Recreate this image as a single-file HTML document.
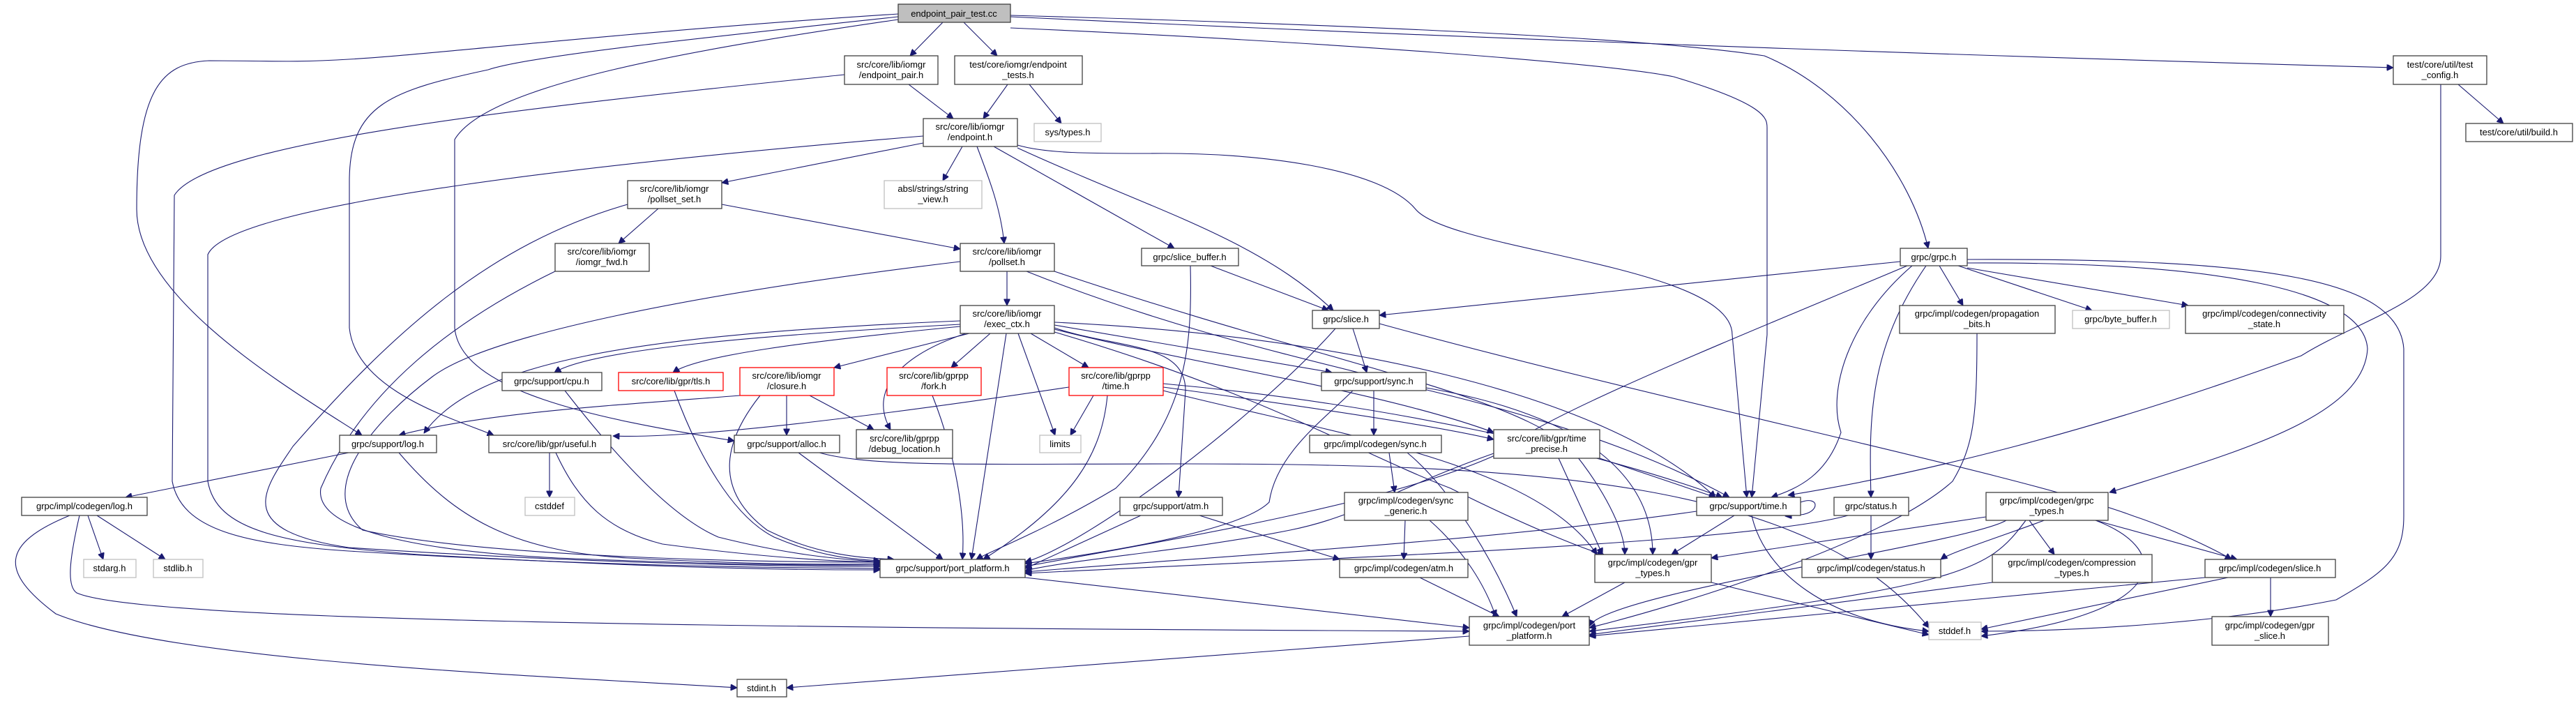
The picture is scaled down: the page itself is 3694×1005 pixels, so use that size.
<!DOCTYPE html>
<html><head><meta charset="utf-8"><style>
html,body{margin:0;padding:0;background:#fff;}
svg{display:block;}
text{font-family:"Liberation Sans",sans-serif;font-size:13px;fill:#000;text-anchor:middle;}
.e{fill:none;stroke:#191970;stroke-width:1.1;marker-end:url(#a);}
.n{fill:#fff;stroke:#404040;stroke-width:1.3;}
.g{fill:#fff;stroke:#bfbfbf;stroke-width:1.3;}
.r{fill:#fff;stroke:#ff0000;stroke-width:1.3;}
</style></head><body>
<svg width="3694" height="1005" viewBox="0 0 3694 1005" xmlns="http://www.w3.org/2000/svg">
<defs><marker id="a" viewBox="0 0 10 10" refX="10" refY="5" markerWidth="10" markerHeight="9" markerUnits="userSpaceOnUse" orient="auto"><path d="M0,0 L10,5 L0,10 z" fill="#191970" stroke="#191970"/></marker></defs>

<g>
<path class="e" d="M1352,32 L1305,80"/>
<path class="e" d="M1382,32 L1430,80"/>
<path class="e" d="M1449,22 C2100,40 2400,60 2530,80 C2650,130 2740,250 2765,356"/>
<path class="e" d="M1449,24 C2200,60 3000,85 3432,97"/>
<path class="e" d="M1288,20 C900,45 600,80 500,85 C420,90 380,87 300,87 C230,90 196,130 196,300 C196,430 420,560 519,624"/>
<path class="e" d="M1288,24 C1000,55 760,80 700,100 C560,130 501,150 501,260 L501,470 C510,560 650,600 708,624"/>
<path class="e" d="M1288,28 C1000,70 700,120 652,200 L652,470 C660,560 850,600 1053,632"/>
<path class="e" d="M1211,107 C800,150 300,200 250,280 L247,690 C260,760 350,780 500,790 C900,815 1200,814 1262,815"/>
<path class="e" d="M1324,195 C900,230 330,290 298,365 L298,690 C310,760 400,780 600,795 C1000,818 1200,817 1262,817"/>
<path class="e" d="M1324,205 L1035,262"/>
<path class="e" d="M1380,210 L1352,259"/>
<path class="e" d="M1401,210 C1420,260 1435,300 1440,349"/>
<path class="e" d="M1425,210 L1684,356"/>
<path class="e" d="M1459,212 C1650,300 1800,340 1912,445"/>
<path class="e" d="M1459,208 C1500,220 1560,220 1650,220 C1800,218 1980,240 2030,300 C2080,360 2484,380 2484,480 L2505,713"/>
<path class="e" d="M1449,40 C1900,60 2300,90 2400,110 C2534,150 2534,170 2534,183 L2534,480 L2512,713"/>
<path class="e" d="M3500,121 L3500,367 C3500,430 3380,460 3300,510 C3000,620 2750,680 2564,710"/>
<path class="e" d="M3525,121 L3590,177"/>
<path class="e" d="M1445,121 L1410,170"/>
<path class="e" d="M1476,121 L1522,177"/>
<path class="e" d="M1303,121 L1367,170"/>
<path class="e" d="M944,299 L887,349"/>
<path class="e" d="M1035,293 L1377,357"/>
<path class="e" d="M900,293 C700,350 560,480 420,640 C380,700 330,760 500,785 C900,812 1200,812 1262,812"/>
<path class="e" d="M796,389 C650,460 520,560 460,700 C450,760 600,790 800,800 C1100,812 1200,810 1262,810"/>
<path class="e" d="M1444,389 L1444,438"/>
<path class="e" d="M1377,375 C1000,420 700,480 620,540 C540,600 450,700 520,760 C700,800 1100,806 1262,806"/>
<path class="e" d="M1472,389 C1700,480 1900,520 2050,560 C2300,620 2420,680 2480,713"/>
<path class="e" d="M1512,389 C1900,520 2150,560 2250,640 C2300,700 2330,760 2330,795"/>
<path class="e" d="M1736,381 L1905,445"/>
<path class="e" d="M1707,381 C1710,500 1700,600 1600,700 C1500,760 1420,790 1400,802"/>
<path class="e" d="M2725,375 L1978,452"/>
<path class="e" d="M2735,381 C2500,480 2200,600 2150,650 C2000,720 1700,770 1470,812"/>
<path class="e" d="M2742,381 C2650,460 2620,560 2640,620 C2620,680 2580,700 2540,713"/>
<path class="e" d="M2762,381 C2680,500 2680,600 2683,713"/>
<path class="e" d="M2781,381 L2815,438"/>
<path class="e" d="M2808,381 L3000,445"/>
<path class="e" d="M2821,384 L3138,438"/>
<path class="e" d="M2821,377 C3200,375 3390,420 3395,500 C3390,600 3200,650 3025,706"/>
<path class="e" d="M2821,372 C3250,370 3440,400 3447,500 L3447,740 C3447,800 3420,820 3350,860 C3200,890 3000,905 2841,905"/>
<path class="e" d="M2835,478 C2835,600 2830,640 2800,690 C2700,780 2400,870 2279,900"/>
<path class="e" d="M1940,471 L1960,534"/>
<path class="e" d="M1915,471 C1800,600 1560,780 1470,806"/>
<path class="e" d="M1978,464 C2400,580 2900,680 3060,740 C3120,760 3180,790 3200,802"/>
<path class="e" d="M1377,465 C1100,480 850,500 795,534"/>
<path class="e" d="M1377,468 C1150,490 1000,510 965,534"/>
<path class="e" d="M1390,478 L1196,527"/>
<path class="e" d="M1385,478 C1290,510 1245,560 1277,616"/>
<path class="e" d="M1420,478 L1364,527"/>
<path class="e" d="M1443,478 L1393,802"/>
<path class="e" d="M1460,478 L1513,624"/>
<path class="e" d="M1478,478 L1561,527"/>
<path class="e" d="M1512,470 C1600,500 1700,490 1700,560 L1690,713"/>
<path class="e" d="M1512,466 L1910,534"/>
<path class="e" d="M1512,472 C1700,520 1980,560 2142,620"/>
<path class="e" d="M1377,460 C900,480 680,520 608,621"/>
<path class="e" d="M1512,476 C1800,560 1950,650 2080,700 C2200,760 2280,790 2300,795"/>
<path class="e" d="M1512,462 C1900,480 2300,560 2460,713"/>
<path class="e" d="M1128,567 L1128,624"/>
<path class="e" d="M1161,567 L1253,616"/>
<path class="e" d="M1090,567 C1040,630 1020,700 1100,760 C1180,800 1250,800 1282,802"/>
<path class="e" d="M1061,567 C900,580 700,590 572,624"/>
<path class="e" d="M1533,555 C1300,590 1000,630 879,625"/>
<path class="e" d="M1568,567 L1535,624"/>
<path class="e" d="M1588,567 C1580,650 1540,720 1410,802"/>
<path class="e" d="M1668,555 C2000,600 2100,620 2142,630"/>
<path class="e" d="M1668,560 C1900,620 2200,660 2290,795"/>
<path class="e" d="M1668,550 C2000,580 2300,650 2470,713"/>
<path class="e" d="M967,560 C1000,650 1050,740 1110,770 C1180,800 1230,802 1262,804"/>
<path class="e" d="M1337,567 C1370,650 1385,740 1380,802"/>
<path class="e" d="M810,560 C880,650 960,740 1030,770 C1150,800 1220,802 1262,806"/>
<path class="e" d="M1145,649 L1352,802"/>
<path class="e" d="M1175,649 C1250,670 1400,665 1700,665 C2200,665 2600,690 2766,900"/>
<path class="e" d="M1970,560 L1970,624"/>
<path class="e" d="M1940,560 C1900,600 1830,650 1820,720 C1780,760 1600,790 1470,808"/>
<path class="e" d="M2045,556 C2300,600 2370,700 2370,795"/>
<path class="e" d="M1992,649 L2000,706"/>
<path class="e" d="M2018,649 C2080,700 2140,800 2175,884"/>
<path class="e" d="M2015,746 L2013,802"/>
<path class="e" d="M2050,746 C2100,790 2130,840 2145,884"/>
<path class="e" d="M2036,828 L2150,884"/>
<path class="e" d="M1636,739 L1470,815"/>
<path class="e" d="M1720,739 L1921,802"/>
<path class="e" d="M2142,650 C2000,700 1950,740 1850,760 C1700,790 1550,800 1470,818"/>
<path class="e" d="M2294,657 L2460,713"/>
<path class="e" d="M2235,657 L2298,795"/>
<path class="e" d="M2433,733 C2100,780 1700,800 1470,820"/>
<path class="e" d="M2487,739 L2397,795"/>
<path class="e" d="M2512,739 C2530,820 2620,890 2766,905"/>
<path class="e" d="M2582,720 C2610,710 2610,735 2582,738 L2560,740"/>
<path class="e" d="M2683,739 L2683,802"/>
<path class="e" d="M2650,739 C2500,780 1900,800 1470,822"/>
<path class="e" d="M2330,835 L2240,884"/>
<path class="e" d="M2454,835 L2766,910"/>
<path class="e" d="M2848,741 L2454,800"/>
<path class="e" d="M2877,746 C2820,780 2300,850 2279,898"/>
<path class="e" d="M2910,746 L2946,795"/>
<path class="e" d="M2905,746 C2850,820 2820,840 2279,905"/>
<path class="e" d="M3005,746 L3208,802"/>
<path class="e" d="M3005,746 C3120,790 3110,880 2841,912"/>
<path class="e" d="M2857,835 L2279,910"/>
<path class="e" d="M3162,828 L2279,912"/>
<path class="e" d="M3195,828 L2841,902"/>
<path class="e" d="M3256,828 L3256,884"/>
<path class="e" d="M3000,720 C2900,760 2800,790 2783,802"/>
<path class="e" d="M1470,828 L2107,900"/>
<path class="e" d="M2107,912 L1128,986"/>
<path class="e" d="M500,649 L180,713"/>
<path class="e" d="M572,649 C650,740 730,790 900,800 C1100,810 1200,810 1262,808"/>
<path class="e" d="M126,739 L148,802"/>
<path class="e" d="M139,739 L237,802"/>
<path class="e" d="M114,739 C100,800 95,840 110,850 C200,890 1000,900 2107,905"/>
<path class="e" d="M100,739 C0,780 0,820 80,880 C250,950 800,970 1057,986"/>
<path class="e" d="M788,649 L788,713"/>
<path class="e" d="M797,649 C830,720 870,760 950,780 C1100,800 1200,805 1262,806"/>
</g>

<g>
<rect x="1288" y="6" width="161" height="26" fill="#bfbfbf" stroke="#404040" stroke-width="1.3"/><text x="1368" y="24">endpoint_pair_test.cc</text>
<rect class="n" x="1211" y="80" width="134" height="41"/><text x="1278" y="97">src/core/lib/iomgr</text><text x="1278" y="112">/endpoint_pair.h</text>
<rect class="n" x="1369" y="80" width="183" height="41"/><text x="1460" y="97">test/core/iomgr/endpoint</text><text x="1460" y="112">_tests.h</text>
<rect class="n" x="1324" y="170" width="135" height="40"/><text x="1391" y="186">src/core/lib/iomgr</text><text x="1391" y="201">/endpoint.h</text>
<rect class="g" x="1483" y="177" width="96" height="26"/><text x="1531" y="194">sys/types.h</text>
<rect class="n" x="900" y="259" width="135" height="40"/><text x="967" y="275">src/core/lib/iomgr</text><text x="967" y="290">/pollset_set.h</text>
<rect class="g" x="1268" y="259" width="140" height="40"/><text x="1338" y="275">absl/strings/string</text><text x="1338" y="290">_view.h</text>
<rect class="n" x="796" y="349" width="135" height="40"/><text x="863" y="365">src/core/lib/iomgr</text><text x="863" y="380">/iomgr_fwd.h</text>
<rect class="n" x="1377" y="349" width="135" height="40"/><text x="1444" y="365">src/core/lib/iomgr</text><text x="1444" y="380">/pollset.h</text>
<rect class="n" x="1637" y="356" width="139" height="25"/><text x="1706" y="373">grpc/slice_buffer.h</text>
<rect class="n" x="1377" y="438" width="135" height="40"/><text x="1444" y="454">src/core/lib/iomgr</text><text x="1444" y="469">/exec_ctx.h</text>
<rect class="n" x="1882" y="445" width="96" height="26"/><text x="1930" y="462">grpc/slice.h</text>
<rect class="n" x="2725" y="356" width="96" height="25"/><text x="2773" y="373">grpc/grpc.h</text>
<rect class="n" x="2724" y="438" width="223" height="40"/><text x="2835" y="454">grpc/impl/codegen/propagation</text><text x="2835" y="469">_bits.h</text>
<rect class="g" x="2972" y="445" width="139" height="26"/><text x="3041" y="462">grpc/byte_buffer.h</text>
<rect class="n" x="3134" y="438" width="227" height="40"/><text x="3247" y="454">grpc/impl/codegen/connectivity</text><text x="3247" y="469">_state.h</text>
<rect class="n" x="3432" y="80" width="134" height="41"/><text x="3499" y="97">test/core/util/test</text><text x="3499" y="112">_config.h</text>
<rect class="n" x="3536" y="177" width="153" height="26"/><text x="3612" y="194">test/core/util/build.h</text>

<rect class="n" x="720" y="534" width="143" height="26"/><text x="791" y="551">grpc/support/cpu.h</text>
<rect class="r" x="887" y="534" width="150" height="26"/><text x="962" y="551">src/core/lib/gpr/tls.h</text>
<rect class="r" x="1061" y="527" width="135" height="40"/><text x="1128" y="543">src/core/lib/iomgr</text><text x="1128" y="558">/closure.h</text>
<rect class="r" x="1272" y="527" width="135" height="40"/><text x="1339" y="543">src/core/lib/gprpp</text><text x="1339" y="558">/fork.h</text>
<rect class="r" x="1533" y="527" width="135" height="40"/><text x="1600" y="543">src/core/lib/gprpp</text><text x="1600" y="558">/time.h</text>
<rect class="n" x="487" y="624" width="139" height="25"/><text x="556" y="641">grpc/support/log.h</text>
<rect class="n" x="701" y="624" width="175" height="25"/><text x="788" y="641">src/core/lib/gpr/useful.h</text>
<rect class="n" x="1053" y="624" width="151" height="25"/><text x="1128" y="641">grpc/support/alloc.h</text>
<rect class="n" x="1228" y="616" width="138" height="41"/><text x="1297" y="633">src/core/lib/gprpp</text><text x="1297" y="648">/debug_location.h</text>
<rect class="g" x="1491" y="624" width="59" height="25"/><text x="1520" y="641">limits</text>
<rect class="n" x="31" y="713" width="180" height="26"/><text x="121" y="730">grpc/impl/codegen/log.h</text>
<rect class="g" x="753" y="713" width="71" height="26"/><text x="788" y="730">cstddef</text>
<rect class="g" x="120" y="802" width="75" height="26"/><text x="157" y="819">stdarg.h</text>
<rect class="g" x="220" y="802" width="71" height="26"/><text x="255" y="819">stdlib.h</text>
<rect class="n" x="1606" y="713" width="147" height="26"/><text x="1679" y="730">grpc/support/atm.h</text>
<rect class="n" x="1262" y="802" width="208" height="26"/><text x="1366" y="819">grpc/support/port_platform.h</text>
<rect class="n" x="1057" y="974" width="71" height="25"/><text x="1092" y="991">stdint.h</text>
<rect class="n" x="1895" y="534" width="150" height="26"/><text x="1970" y="551">grpc/support/sync.h</text>
<rect class="n" x="1878" y="624" width="189" height="25"/><text x="1972" y="641">grpc/impl/codegen/sync.h</text>
<rect class="n" x="2142" y="616" width="152" height="41"/><text x="2218" y="633">src/core/lib/gpr/time</text><text x="2218" y="648">_precise.h</text>
<rect class="n" x="1928" y="706" width="177" height="40"/><text x="2016" y="722">grpc/impl/codegen/sync</text><text x="2016" y="737">_generic.h</text>
<rect class="n" x="1921" y="802" width="184" height="26"/><text x="2013" y="819">grpc/impl/codegen/atm.h</text>
<rect class="n" x="2287" y="795" width="167" height="40"/><text x="2370" y="811">grpc/impl/codegen/gpr</text><text x="2370" y="826">_types.h</text>
<rect class="n" x="2433" y="713" width="149" height="26"/><text x="2507" y="730">grpc/support/time.h</text>
<rect class="n" x="2630" y="713" width="107" height="26"/><text x="2683" y="730">grpc/status.h</text>
<rect class="n" x="2584" y="802" width="199" height="26"/><text x="2683" y="819">grpc/impl/codegen/status.h</text>
<rect class="n" x="2107" y="884" width="172" height="41"/><text x="2193" y="901">grpc/impl/codegen/port</text><text x="2193" y="916">_platform.h</text>
<rect class="n" x="2848" y="706" width="175" height="40"/><text x="2935" y="722">grpc/impl/codegen/grpc</text><text x="2935" y="737">_types.h</text>
<rect class="n" x="2857" y="795" width="229" height="40"/><text x="2971" y="811">grpc/impl/codegen/compression</text><text x="2971" y="826">_types.h</text>
<rect class="n" x="3162" y="802" width="187" height="26"/><text x="3255" y="819">grpc/impl/codegen/slice.h</text>
<rect class="g" x="2766" y="892" width="75" height="25"/><text x="2803" y="909">stddef.h</text>
<rect class="n" x="3172" y="884" width="167" height="41"/><text x="3255" y="901">grpc/impl/codegen/gpr</text><text x="3255" y="916">_slice.h</text>
</g>
</svg>
</body></html>
